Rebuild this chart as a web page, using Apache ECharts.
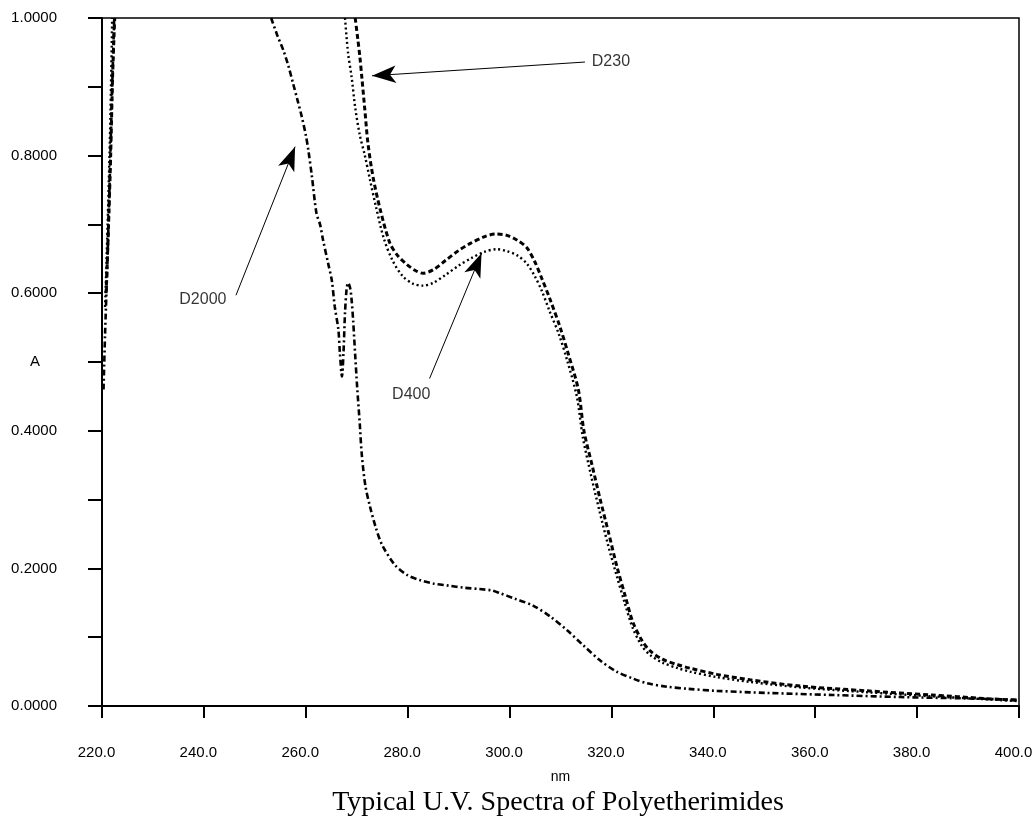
<!DOCTYPE html>
<html>
<head>
<meta charset="utf-8">
<script src="https://cdn.jsdelivr.net/npm/echarts@6/dist/echarts.min.js"></script>
<style>
html,body{margin:0;padding:0;background:#fff;}
#chart{width:1033px;height:819px;}
</style>
</head>
<body>
<div id="chart"></div>
<script>
// ---- Data (wavelength nm, absorbance A) ----
const xTickLabels = ['220.0','240.0','260.0','280.0','300.0','320.0','340.0','360.0','380.0','400.0'];
const yTickLabels = ['0.0000','0.2000','0.4000','0.6000','0.8000','1.0000'];

const d230Edge = [[220.8,0.60],[221.2,0.68],[221.7,0.80],[222.1,0.92],[222.5,1.0]];
const d230 = [[269.7,1.0],[270.2,0.97],[270.6,0.945],[271.0,0.914],[271.6,0.866],[272.2,0.818],[273.2,0.769],
  [274.6,0.722],[276.5,0.673],[278.0,0.655],[279.8,0.642],[281.5,0.633],[283.0,0.629],[285.0,0.634],[287.5,0.648],
  [290.0,0.662],[292.2,0.672],[295.0,0.682],[297.2,0.686],[299.5,0.684],[301.5,0.677],[303.4,0.666],[305.0,0.645],
  [306.3,0.622],[308.0,0.59],[309.9,0.551],[311.6,0.51],[313.5,0.46],[314.6,0.40],[316.2,0.35],[317.8,0.30],
  [319.5,0.25],[321.1,0.202],[322.7,0.16],[324.2,0.122],[326.0,0.095],[327.6,0.08],[330.0,0.068],[333.0,0.06],
  [335.4,0.055],[340.7,0.046],[347.2,0.038],[357.0,0.029],[370.2,0.022],[383.0,0.016],[393.0,0.011],[400.0,0.008]];

const d400Edge = [[220.6,0.58],[221.1,0.70],[221.6,0.84],[222.0,1.0]];
const d400 = [[267.7,1.0],[268.3,0.949],[269.0,0.914],[269.7,0.87],[270.6,0.83],[271.6,0.80],[272.6,0.765],
  [273.8,0.725],[275.3,0.68],[277.0,0.648],[279.0,0.625],[281.0,0.614],[283.0,0.611],[285.0,0.615],[287.5,0.627],
  [290.0,0.64],[292.5,0.651],[295.0,0.66],[297.5,0.664],[299.5,0.661],[301.5,0.655],[303.4,0.643],[305.0,0.624],
  [306.3,0.604],[307.8,0.575],[309.7,0.54],[311.4,0.5],[313.2,0.45],[314.4,0.39],[316.0,0.335],[317.6,0.285],
  [319.3,0.235],[321.0,0.19],[322.6,0.15],[324.2,0.113],[326.0,0.087],[327.6,0.074],[330.0,0.063],[333.0,0.055],
  [335.4,0.05],[340.7,0.042],[347.2,0.035],[357.0,0.027],[370.2,0.02],[383.0,0.014],[393.0,0.01],[400.0,0.007]];

const d2000Edge = [[220.3,0.46],[220.6,0.54],[221.0,0.63],[221.5,0.76],[222.0,0.9],[222.4,1.0]];
const d2000 = [[253.2,1.0],[254.4,0.975],[255.6,0.953],[256.6,0.93],[257.5,0.905],[258.4,0.88],[259.2,0.857],
  [260.0,0.83],[260.5,0.808],[261.2,0.77],[262.1,0.716],[262.8,0.70],[263.4,0.677],[264.4,0.643],[265.1,0.619],
  [265.7,0.58],[266.4,0.547],[266.7,0.513],[267.1,0.479],[267.4,0.513],[267.7,0.571],[268.0,0.605],[268.3,0.615],
  [268.7,0.608],[269.0,0.59],[269.3,0.56],[269.7,0.51],[270.1,0.462],[270.6,0.41],[271.0,0.365],[271.7,0.32],
  [272.6,0.29],[273.8,0.258],[275.0,0.234],[277.5,0.205],[280.0,0.19],[282.4,0.183],[285.0,0.178],[288.0,0.175],
  [291.0,0.172],[294.0,0.17],[296.5,0.168],[298.1,0.164],[301.0,0.156],[304.6,0.146],[308.0,0.13],[311.3,0.11],
  [314.5,0.088],[317.8,0.066],[321.0,0.05],[324.2,0.04],[327.0,0.033],[330.9,0.028],[335.0,0.025],[340.7,0.022],
  [350.5,0.019],[363.5,0.016],[376.6,0.013],[389.8,0.011],[400.0,0.009]];

// annotations
const annLabels = ['D230','D2000','D400'];
const annLabelPos = [[319.9,0.936],[239.8,0.59],[280.7,0.452]];
const annArrowFrom = [[314.8,0.936],[246.3,0.597],[284.3,0.476]];
const annArrowTo = [[273.0,0.916],[257.9,0.813],[294.5,0.658]];

// ---- Chart ----
const chart = echarts.init(document.getElementById('chart'), null, {renderer:'canvas'});
const SANS = '"Liberation Sans", Arial, sans-serif';

function curve(name, data, lineStyle) {
  return {
    name: name, type: 'line', data: data, showSymbol: false, symbol: 'none',
    smooth: 0.3, clip: true, silent: true, animation: false,
    lineStyle: Object.assign({color:'#000'}, lineStyle)
  };
}
const styleD230 = {width: 3, type: [5, 3]};
const styleD400 = {width: 2.4, type: [2, 2.8]};
const styleD2000 = {width: 2.6, type: [6, 3, 2, 3]};

const option = {
  backgroundColor: '#fff',
  animation: false,
  title: [{
    text: 'Typical U.V. Spectra of Polyetherimides',
    left: 553, top: 784, textAlign: 'center',
    textStyle: {fontFamily: '"Liberation Serif", "Times New Roman", serif', fontSize: 28, fontWeight: 'normal', color: '#000'}
  }],
  grid: {left: 102, right: 14, top: 18, bottom: 113, outerBoundsMode: 'none', containLabel: false,
    show: true, borderColor: '#000', borderWidth: 1.5, backgroundColor: 'transparent'},
  xAxis: {
    type: 'value', min: 220, max: 400, interval: 20,
    name: 'nm', nameLocation: 'middle', nameGap: 64, nameMoveOverlap: false,
    nameTextStyle: {fontFamily: SANS, fontSize: 14, color: '#000'},
    axisLine: {show: true, lineStyle: {color: '#000', width: 2}},
    axisTick: {show: true, length: 12, lineStyle: {color: '#000', width: 2}},
    axisLabel: {
      margin: 39, fontFamily: SANS, fontSize: 15, color: '#000', padding: [0, 11, 0, 0],
      formatter: function (v) { return xTickLabels[Math.round((v - 220) / 20)] || ''; }
    },
    splitLine: {show: false}
  },
  yAxis: {
    type: 'value', min: 0, max: 1, interval: 0.1,
    name: 'A', nameLocation: 'middle', nameRotate: 0, nameGap: 62, nameMoveOverlap: false,
    nameTextStyle: {fontFamily: SANS, fontSize: 15, color: '#000'},
    axisLine: {show: true, lineStyle: {color: '#000', width: 2}},
    axisTick: {show: true, length: 14, lineStyle: {color: '#000', width: 2}},
    axisLabel: {
      margin: 45, fontFamily: SANS, fontSize: 15, color: '#000',
      formatter: function (v) {
        const k = Math.round(v * 10);
        return k % 2 === 0 ? yTickLabels[k / 2] : '';
      }
    },
    splitLine: {show: false}
  },
  series: [
    curve('D230', d230Edge, styleD230),
    curve('D230', d230, styleD230),
    curve('D400', d400Edge, styleD400),
    curve('D400', d400, styleD400),
    curve('D2000', d2000Edge, styleD2000),
    curve('D2000', d2000, styleD2000),
    {
      name: 'annotations', type: 'scatter', silent: true, animation: false,
      symbolSize: 1, itemStyle: {color: 'transparent'},
      data: annLabelPos.map(function (p, i) { return {name: annLabels[i], value: p}; }),
      label: {show: true, position: 'inside', formatter: '{b}', fontFamily: SANS, fontSize: 16, color: '#000'},
      markLine: {
        silent: true, animation: false,
        symbol: ['none', 'arrow'],
        label: {show: false},
        lineStyle: {color: '#000', width: 1, type: 'solid'},
        data: annArrowFrom.map(function (f, i) {
          return [{coord: f, symbol: 'none'}, {coord: annArrowTo[i], symbol: 'arrow', symbolSize: [13, 24]}];
        })
      }
    }
  ]
};
chart.setOption(option);
</script>
</body>
</html>
